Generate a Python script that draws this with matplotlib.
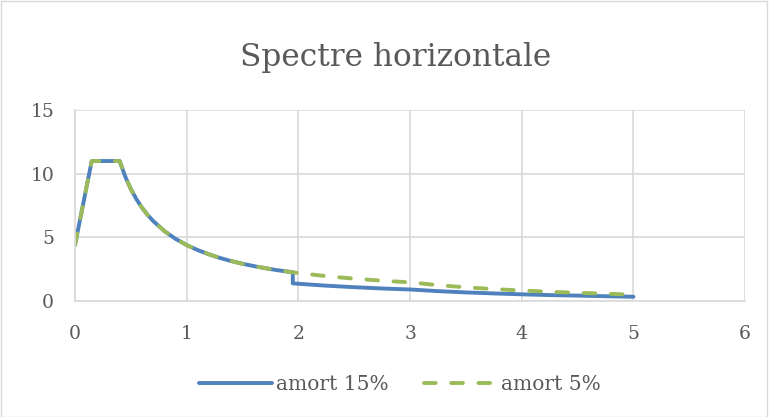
import matplotlib.pyplot as plt

# Spectral ordinates read per period (s)
periods_15 = [0, 0.15, 0.4, 0.45, 0.5, 0.55, 0.6, 0.65, 0.7, 0.8, 0.9, 1.0, 1.1, 1.2, 1.3,
              1.4, 1.5, 1.6, 1.7, 1.8, 1.9, 1.95, 1.95, 2.25, 2.5, 2.75, 3.0, 3.25,
              3.5, 3.75, 4.0, 4.25, 4.5, 4.75, 5.0]
se_15 = [4.4, 11.0, 11.0, 9.78, 8.8, 8.0, 7.33, 6.77, 6.29, 5.5, 4.89, 4.4, 4.0, 3.67, 3.38,
         3.14, 2.93, 2.75, 2.59, 2.44, 2.32, 2.26, 1.39, 1.21, 1.09, 0.99, 0.91, 0.78,
         0.68, 0.60, 0.53, 0.47, 0.43, 0.38, 0.34]

periods_5 = [0, 0.15, 0.4, 0.45, 0.5, 0.55, 0.6, 0.65, 0.7, 0.8, 0.9, 1.0, 1.1, 1.2, 1.3,
             1.4, 1.5, 1.6, 1.7, 1.8, 1.9, 2.0, 2.25, 2.5, 2.75, 3.0, 3.25, 3.5,
             3.75, 4.0, 4.25, 4.5, 4.75, 5.0]
se_5 = [4.4, 11.0, 11.0, 9.78, 8.8, 8.0, 7.33, 6.77, 6.29, 5.5, 4.89, 4.4, 4.0, 3.67, 3.38,
        3.14, 2.93, 2.75, 2.59, 2.44, 2.32, 2.2, 1.96, 1.76, 1.6, 1.47, 1.25, 1.08,
        0.94, 0.83, 0.73, 0.65, 0.58, 0.50]

x_ticks = [0, 1, 2, 3, 4, 5, 6]
y_ticks = [0, 5, 10, 15]

text_color = '#595959'
grid_color = '#D9D9D9'
font = 'DejaVu Serif'

fig = plt.figure(figsize=(7.69, 4.17), dpi=100)
ax = fig.add_axes([0.0975, 0.278, 0.8715, 0.458])

ax.plot(periods_15, se_15, color='#4F81BD', linewidth=2.8, solid_capstyle='round',
        solid_joinstyle='round', label='amort 15%')
ax.plot(periods_5, se_5, color='#9BBB59', linewidth=2.8, linestyle=(0, (3, 4)),
        dash_capstyle='round', label='amort 5%')

ax.set_xlim(0, 6)
ax.set_ylim(0, 15)
ax.set_xticks(x_ticks)
ax.set_yticks(y_ticks)
ax.grid(True, color=grid_color, linewidth=1.2)
ax.set_axisbelow(True)
for side in ['top', 'right']:
    ax.spines[side].set_visible(False)
for side in ['left', 'bottom']:
    ax.spines[side].set_color(grid_color)
    ax.spines[side].set_linewidth(1.2)
ax.tick_params(length=0, labelsize=13.5, labelcolor=text_color)
ax.tick_params(axis='x', pad=17)
ax.tick_params(axis='y', pad=15)
for lab in ax.get_xticklabels() + ax.get_yticklabels():
    lab.set_family(font)

fig.text(0.514, 0.862, 'Spectre horizontale', ha='center', va='center',
         fontsize=22.5, color=text_color, family=font)

leg = fig.legend(loc='center', bbox_to_anchor=(0.52, 0.078), ncol=2, frameon=False,
                 handlelength=3.6, handletextpad=0.2, columnspacing=1.8,
                 prop={'family': font, 'size': 14.5})
for t in leg.get_texts():
    t.set_color(text_color)

# light border around the whole chart
fig.patches.append(plt.Rectangle((0.001, 0.001), 0.997, 0.997, transform=fig.transFigure,
                                 fill=False, edgecolor=grid_color, linewidth=1))

fig.savefig('out.png', dpi=100)
